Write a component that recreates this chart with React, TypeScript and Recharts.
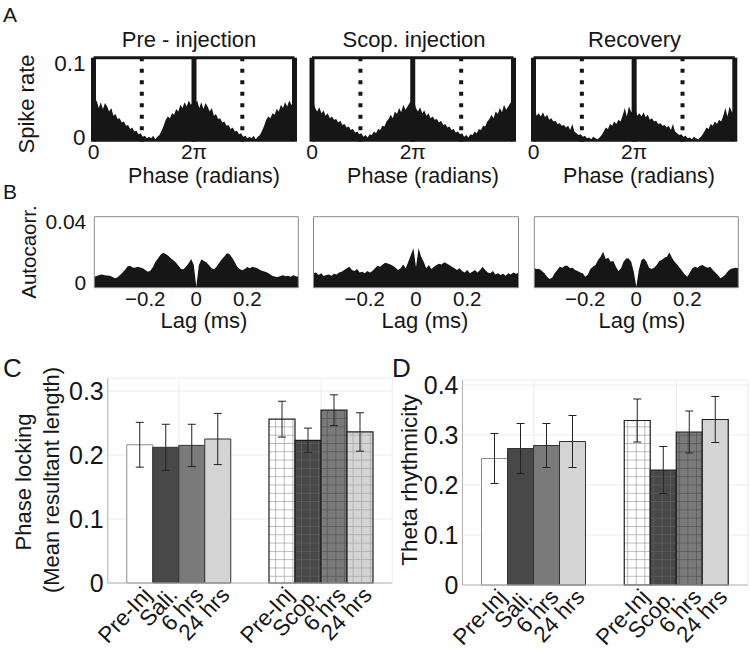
import React from "react";
import {
  AreaChart,
  Area,
  BarChart,
  Bar,
  XAxis,
  YAxis,
  CartesianGrid,
  ReferenceLine,
  ReferenceArea,
  ErrorBar,
  Cell,
} from "recharts";

const FONT = "'Liberation Sans', Arial, Helvetica, sans-serif";
const INK = "#161616";
const FRAME = "#8a8a8a";
const AXIS = "#b4b4b4";

// ---- A: spike rate per theta phase bin (one cycle, drawn twice) ----
const PHASE_BINS = 48;
const phaseTicks = [0, 2 * Math.PI];
const phaseTickLabels = ["0", "2π"];
const rateTicks = [0, 0.1];
const rateTickLabels = ["0", "0.1"];
const troughPhase = [3.02, 3.02 + 2 * Math.PI];

const preInjectionRate = [
  0.045, 0.049, 0.04, 0.047, 0.039, 0.046, 0.042, 0.036, 0.04, 0.031, 0.033, 0.027,
  0.028, 0.023, 0.024, 0.019, 0.02, 0.015, 0.017, 0.012, 0.013, 0.009, 0.01, 0.006,
  0.007, 0.004, 0.006, 0.004, 0.007, 0.003, 0.006, 0.008, 0.013, 0.019, 0.026, 0.03,
  0.028, 0.034, 0.032, 0.039, 0.036, 0.044, 0.04, 0.047, 0.042, 0.049, 0.044, 0.046,
];
const scopInjectionRate = [
  0.05, 0.04, 0.036, 0.041, 0.034, 0.037, 0.031, 0.034, 0.028, 0.03, 0.026, 0.027,
  0.023, 0.025, 0.02, 0.021, 0.017, 0.018, 0.014, 0.015, 0.011, 0.012, 0.009, 0.01,
  0.006, 0.008, 0.005, 0.009, 0.008, 0.012, 0.01, 0.015, 0.014, 0.019, 0.018, 0.024,
  0.027, 0.032, 0.028, 0.036, 0.033, 0.04, 0.035, 0.044, 0.038, 0.042, 0.046, 0.05,
];
const recoveryRate = [
  0.04, 0.031, 0.034, 0.03, 0.035, 0.029, 0.032, 0.026, 0.028, 0.024, 0.025, 0.021,
  0.022, 0.019, 0.02, 0.017, 0.019, 0.014, 0.021, 0.012, 0.01, 0.008, 0.009, 0.006,
  0.007, 0.004, 0.005, 0.003, 0.006, 0.004, 0.003, 0.005, 0.008, 0.012, 0.017, 0.015,
  0.021, 0.019, 0.024, 0.021, 0.026, 0.024, 0.031, 0.04, 0.03, 0.042, 0.036, 0.034,
];

// ---- B: spike autocorrelation, lag -0.4 .. 0.4 in 0.01 steps ----
const lagTicks = [-0.2, 0, 0.2];
const lagTickLabels = ["−0.2", "0", "0.2"];
const acTicks = [0, 0.02, 0.04];
const acTickLabels = ["0", "", "0.04"];

const acPre = [
  0.0062, 0.0066, 0.0072, 0.0075, 0.007, 0.0069, 0.0067, 0.0062, 0.0053, 0.0058,
  0.007, 0.0084, 0.01, 0.012, 0.0124, 0.0114, 0.0113, 0.0118, 0.0114, 0.011,
  0.01, 0.009, 0.0096, 0.0116, 0.0146, 0.0166, 0.0186, 0.0197, 0.019, 0.018,
  0.0166, 0.0154, 0.0142, 0.0124, 0.0106, 0.0104, 0.012, 0.0138, 0.0162, 0.013,
  0.0006,
  0.0126, 0.016, 0.015, 0.0142, 0.0126, 0.011, 0.0104, 0.012, 0.014, 0.016,
  0.0176, 0.0194, 0.019, 0.017, 0.0146, 0.012, 0.0106, 0.0098, 0.0106, 0.0116,
  0.011, 0.0118, 0.0114, 0.011, 0.01, 0.0094, 0.009, 0.0084, 0.0074, 0.0066,
  0.0062, 0.006, 0.0066, 0.007, 0.0064, 0.0068, 0.0062, 0.007, 0.0064, 0.0062,
];
const acScop = [
  0.0081, 0.0086, 0.0071, 0.0081, 0.0066, 0.0071, 0.0075, 0.0068, 0.0079, 0.0075,
  0.0086, 0.009, 0.01, 0.0109, 0.0118, 0.01, 0.0094, 0.0105, 0.0086, 0.009,
  0.0081, 0.0094, 0.0086, 0.0094, 0.0109, 0.0124, 0.0118, 0.0131, 0.0141, 0.0137,
  0.0131, 0.0124, 0.0113, 0.01, 0.0109, 0.0131, 0.0109, 0.0146, 0.0184, 0.0222,
  0.0115,
  0.0222, 0.0175, 0.0146, 0.0109, 0.0128, 0.0105, 0.0118, 0.0128, 0.0135, 0.0131,
  0.0143, 0.0137, 0.0128, 0.0118, 0.0109, 0.01, 0.0109, 0.0094, 0.0086, 0.01,
  0.0081, 0.009, 0.01, 0.0086, 0.01, 0.0118, 0.01, 0.0086, 0.0081, 0.0094,
  0.0075, 0.0081, 0.0071, 0.0079, 0.0068, 0.0081, 0.0075, 0.0086, 0.0079, 0.0083,
];
const acRecovery = [
  0.0109, 0.0105, 0.0105, 0.0094, 0.0081, 0.0062, 0.0049, 0.0056, 0.0081, 0.01,
  0.0118, 0.0113, 0.0124, 0.0124, 0.0109, 0.0113, 0.01, 0.0094, 0.0086, 0.0081,
  0.0062, 0.0075, 0.0105, 0.0118, 0.0128, 0.0156, 0.0175, 0.0203, 0.0162, 0.0169,
  0.0146, 0.015, 0.0118, 0.0094, 0.0109, 0.0146, 0.0165, 0.0165, 0.0146, 0.009,
  0.0006,
  0.01, 0.0156, 0.0165, 0.0146, 0.0113, 0.0105, 0.0113, 0.0128, 0.015, 0.0156,
  0.0169, 0.0175, 0.0199, 0.0169, 0.0146, 0.0131, 0.0113, 0.0094, 0.0075, 0.0062,
  0.0086, 0.0109, 0.0118, 0.0113, 0.0124, 0.0128, 0.0118, 0.0113, 0.0118, 0.01,
  0.0086, 0.0071, 0.0053, 0.0062, 0.0075, 0.0094, 0.0105, 0.0109, 0.0113, 0.0109,
];

// ---- C / D: group means with error bars ----
const groups = ["Saline", "Scopolamine"];
const salineLabels = ["Pre-Inj", "Sali.", "6 hrs", "24 hrs"];
const scopLabels = ["Pre-Inj", "Scop.", "6 hrs", "24 hrs"];

const lockSaline = [0.216, 0.212, 0.215, 0.225];
const lockSalineErr = [0.035, 0.036, 0.033, 0.04];
const lockScop = [0.256, 0.223, 0.27, 0.236];
const lockScopErr = [0.028, 0.019, 0.024, 0.03];

const thetaSaline = [0.253, 0.273, 0.279, 0.287];
const thetaSalineErr = [0.05, 0.05, 0.044, 0.052];
const thetaScop = [0.329, 0.23, 0.306, 0.331];
const thetaScopErr = [0.043, 0.047, 0.042, 0.046];

const BAR = 26;
const solidFills = ["#ffffff", "#484848", "#7a7a7a", "#d4d4d4"];
const lockScopFills = ["url(#hWhite)", "url(#hDark)", "url(#hMid)", "url(#hLight)"];
const thetaScopFills = ["url(#hWhite)", "url(#hDark)", "url(#hMid)", "#d4d4d4"];

function labelFor(values: number[], labels: string[], v: number) {
  const i = values.findIndex((t) => Math.abs(t - v) < 1e-9);
  return i >= 0 ? labels[i] : "";
}

function BottomTick(props: any) {
  const { x, y, payload, values, labels, size, dy } = props;
  return (
    <text x={x} y={y + dy} textAnchor="middle" fontSize={size} fontFamily={FONT} fill={INK}>
      {labelFor(values, labels, payload.value)}
    </text>
  );
}

function LeftTick(props: any) {
  const { x, y, payload, values, labels, size, nudge, gap = 5 } = props;
  const v = payload.value;
  let shift = 0;
  if (nudge) shift = v === 0 ? -5 : v === values[values.length - 1] ? 5 : 0;
  return (
    <text x={x - gap} y={y + shift + size * 0.35} textAnchor="end" fontSize={size} fontFamily={FONT} fill={INK}>
      {labelFor(values, labels, v)}
    </text>
  );
}

function GroupTick(props: any) {
  const { x, y, payload } = props;
  const labels = payload.value === groups[0] ? salineLabels : scopLabels;
  return (
    <g>
      {labels.map((s, k) => (
        <text
          key={k}
          transform={`translate(${x + (k - 1.5) * BAR + 13},${y + 13}) rotate(-47)`}
          textAnchor="end"
          fontSize={22.5}
          fontFamily={FONT}
          fill={INK}
        >
          {s}
        </text>
      ))}
    </g>
  );
}

function PhasePanel({ rate, left, width, plotLeft, plotRight, showY }: any) {
  const binWidth = (2 * Math.PI) / PHASE_BINS;
  const data: { phase: number; rate: number }[] = [];
  for (let c = 0; c < 2; c++) {
    rate.forEach((r: number, i: number) => data.push({ phase: (c * PHASE_BINS + i + 0.5) * binWidth, rate: r }));
  }
  return (
    <div style={{ position: "absolute", left, top: 0 }}>
      <AreaChart
        width={width}
        height={170}
        data={data}
        margin={{ top: 57.7, right: width - plotRight, bottom: 0, left: showY ? 0 : plotLeft }}
      >
        <XAxis
          dataKey="phase"
          type="number"
          domain={[0, 4 * Math.PI]}
          ticks={phaseTicks}
          axisLine={false}
          tickLine={false}
          tickSize={0}
          tickMargin={0}
          height={28.3}
          interval={0}
          tick={<BottomTick values={phaseTicks} labels={phaseTickLabels} size={21} dy={17} />}
        />
        <YAxis
          type="number"
          domain={[0, 0.1]}
          ticks={rateTicks}
          hide={!showY}
          width={plotLeft}
          axisLine={false}
          tickLine={false}
          tickSize={0}
          tickMargin={0}
          interval={0}
          tick={<LeftTick values={rateTicks} labels={rateTickLabels} size={22.5} gap={8} nudge />}
        />
        <Area
          dataKey="rate"
          type="linear"
          stroke="none"
          fill={INK}
          fillOpacity={1}
          dot={false}
          activeDot={false}
          isAnimationActive={false}
        />
        <ReferenceLine y={0.1} stroke={INK} strokeWidth={3} />
        {phaseTicks.concat([4 * Math.PI]).map((p) => (
          <ReferenceLine key={p} x={p} stroke={INK} strokeWidth={5} />
        ))}
        {troughPhase.map((p) => (
          <ReferenceLine key={p} x={p} stroke={INK} strokeWidth={4} strokeDasharray="4 7.5" />
        ))}
      </AreaChart>
    </div>
  );
}

function LagPanel({ values, left, width, plotLeft, plotRight, showY }: any) {
  const data = values.map((v: number, i: number) => ({ lag: Math.round(i - 40) / 100, ac: v }));
  return (
    <div style={{ position: "absolute", left, top: 200 }}>
      <AreaChart
        width={width}
        height={130}
        data={data}
        margin={{ top: 16.7, right: width - plotRight, bottom: 0, left: showY ? 0 : plotLeft }}
      >
        <XAxis
          dataKey="lag"
          type="number"
          domain={[-0.4, 0.4]}
          ticks={lagTicks}
          axisLine={false}
          tickLine={false}
          tickSize={0}
          tickMargin={0}
          height={42.3}
          interval={0}
          tick={<BottomTick values={lagTicks} labels={lagTickLabels} size={20.5} dy={18} />}
        />
        <XAxis
          xAxisId="top"
          orientation="top"
          dataKey="lag"
          type="number"
          domain={[-0.4, 0.4]}
          ticks={lagTicks}
          mirror
          height={0}
          tick={false}
          tickSize={3}
          axisLine={false}
          tickLine={{ stroke: FRAME }}
        />
        <YAxis
          type="number"
          domain={[0, 0.04]}
          ticks={acTicks}
          hide={!showY}
          width={plotLeft}
          axisLine={false}
          tickLine={false}
          tickSize={0}
          tickMargin={0}
          interval={0}
          tick={<LeftTick values={acTicks} labels={acTickLabels} size={21} gap={8} nudge />}
        />
        <YAxis
          yAxisId="right"
          orientation="right"
          type="number"
          domain={[0, 0.04]}
          ticks={[0.02]}
          mirror
          width={0}
          tick={false}
          tickSize={3}
          axisLine={false}
          tickLine={{ stroke: FRAME }}
        />
        <Area
          dataKey="ac"
          type="linear"
          stroke="none"
          fill={INK}
          fillOpacity={1}
          dot={false}
          activeDot={false}
          isAnimationActive={false}
        />
        <ReferenceArea x1={-0.4} x2={0.4} y1={0} y2={0.04} fill="none" stroke={FRAME} strokeWidth={1} />
      </AreaChart>
    </div>
  );
}

function BarPanel({ left, width, height, plotLeft, plotRight, plotTop, axisH, yMax, yTicks, sal, salErr, scop, scopErr, scopFills }: any) {
  const rows = groups.map((g, gi) => {
    const m = gi === 0 ? sal : scop;
    const e = gi === 0 ? salErr : scopErr;
    const row: any = { group: g };
    for (let k = 0; k < 4; k++) {
      row[`b${k}`] = m[k];
      row[`e${k}`] = e[k];
    }
    return row;
  });
  return (
    <div style={{ position: "absolute", left, top: 360 }}>
      <BarChart
        width={width}
        height={height}
        data={rows}
        barGap={0}
        barCategoryGap={0}
        margin={{ top: plotTop, right: width - plotRight, bottom: 0, left: 0 }}
      >
        <CartesianGrid stroke="#ececec" />
        <XAxis
          dataKey="group"
          type="category"
          axisLine={{ stroke: AXIS }}
          tickLine={false}
          tickSize={0}
          tickMargin={0}
          height={axisH}
          interval={0}
          tick={<GroupTick />}
        />
        <YAxis
          type="number"
          domain={[0, yMax]}
          ticks={yTicks}
          width={plotLeft}
          axisLine={{ stroke: AXIS }}
          tickLine={false}
          tickSize={0}
          tickMargin={0}
          interval={0}
          tick={<LeftTick values={yTicks} labels={yTicks.map((t: number) => (t === 0 ? "0" : t.toFixed(1)))} size={25} gap={4} />}
        />
        {[0, 1, 2, 3].map((k) => (
          <Bar key={k} dataKey={`b${k}`} barSize={BAR} isAnimationActive={false}>
            <Cell fill={solidFills[k]} stroke={k === 0 ? "#8c8c8c" : "#333"} strokeWidth={1} />
            <Cell fill={scopFills[k]} stroke="#1e1e1e" strokeWidth={1.2} />
            <ErrorBar dataKey={`e${k}`} width={4} stroke="#222" strokeWidth={1} />
          </Bar>
        ))}
      </BarChart>
    </div>
  );
}

function T({ x, y, size, anchor = "middle", rotate = 0, children }: any) {
  const t = `translate(${x},${y})${rotate ? ` rotate(${rotate})` : ""}`;
  return (
    <text transform={t} textAnchor={anchor} fontSize={size} fontFamily={FONT} fill={INK}>
      {children}
    </text>
  );
}

function Hatch({ id, bg, line }: any) {
  return (
    <pattern id={id} width={8.6} height={8.3} patternUnits="userSpaceOnUse">
      <rect width={8.6} height={8.3} fill={bg} />
      <path d="M0 0.4 H8.6 M0.4 0 V8.3" stroke={line} strokeWidth={0.8} />
    </pattern>
  );
}

export default function App() {
  return (
    <div style={{ position: "absolute", left: 0, top: 0, width: 750, height: 652, background: "#fff", overflow: "hidden" }}>
      <svg width={0} height={0} style={{ position: "absolute" }}>
        <defs>
          <Hatch id="hWhite" bg="#ffffff" line="#a3a3a3" />
          <Hatch id="hDark" bg="#484848" line="#5e5e5e" />
          <Hatch id="hMid" bg="#7a7a7a" line="#565656" />
          <Hatch id="hLight" bg="#d4d4d4" line="#a6a6a6" />
        </defs>
      </svg>

      <PhasePanel rate={preInjectionRate} left={0} width={300} plotLeft={93.5} plotRight={294.5} showY />
      <PhasePanel rate={scopInjectionRate} left={300} width={220} plotLeft={12} plotRight={213.5} />
      <PhasePanel rate={recoveryRate} left={520} width={230} plotLeft={13.5} plotRight={214.8} />

      <LagPanel values={acPre} left={0} width={305} plotLeft={94.3} plotRight={298.3} showY />
      <LagPanel values={acScop} left={305} width={220} plotLeft={8.5} plotRight={213.5} />
      <LagPanel values={acRecovery} left={525} width={225} plotLeft={9.3} plotRight={213.3} />

      <BarPanel
        left={0}
        width={395}
        height={292}
        plotLeft={107.75}
        plotRight={392.25}
        plotTop={18.2}
        axisH={69}
        yMax={0.32}
        yTicks={[0, 0.1, 0.2, 0.3]}
        sal={lockSaline}
        salErr={lockSalineErr}
        scop={lockScop}
        scopErr={lockScopErr}
        scopFills={lockScopFills}
      />
      <BarPanel
        left={395}
        width={355}
        height={292}
        plotLeft={67.5}
        plotRight={353}
        plotTop={20}
        axisH={67}
        yMax={0.41}
        yTicks={[0, 0.1, 0.2, 0.3, 0.4]}
        sal={thetaSaline}
        salErr={thetaSalineErr}
        scop={thetaScop}
        scopErr={thetaScopErr}
        scopFills={thetaScopFills}
      />

      <svg width={750} height={652} style={{ position: "absolute", left: 0, top: 0, pointerEvents: "none" }}>
        <T x={3} y={22} size={21} anchor="start">A</T>
        <T x={3} y={199} size={21} anchor="start">B</T>
        <T x={3} y={377} size={26} anchor="start">C</T>
        <T x={392} y={377} size={26} anchor="start">D</T>

        <T x={189} y={47} size={22}>Pre - injection</T>
        <T x={414} y={47} size={22}>Scop. injection</T>
        <T x={634.5} y={47} size={22}>Recovery</T>

        <T x={204} y={183} size={21.5}>Phase (radians)</T>
        <T x={423} y={183} size={21.5}>Phase (radians)</T>
        <T x={639} y={183} size={21.5}>Phase (radians)</T>
        <T x={34} y={104} size={22} rotate={-90}>Spike rate</T>

        <T x={36} y={252} size={20.5} rotate={-90}>Autocaorr.</T>
        <T x={204} y={328} size={22}>Lag (ms)</T>
        <T x={425} y={328} size={22}>Lag (ms)</T>
        <T x={642} y={328} size={22}>Lag (ms)</T>

        <T x={30.5} y={482} size={22} rotate={-90}>Phase locking</T>
        <T x={58.5} y={480} size={22} rotate={-90}>(Mean resultant length)</T>
        <T x={417} y={480} size={22.5} rotate={-90}>Theta rhythmicity</T>
      </svg>
    </div>
  );
}
